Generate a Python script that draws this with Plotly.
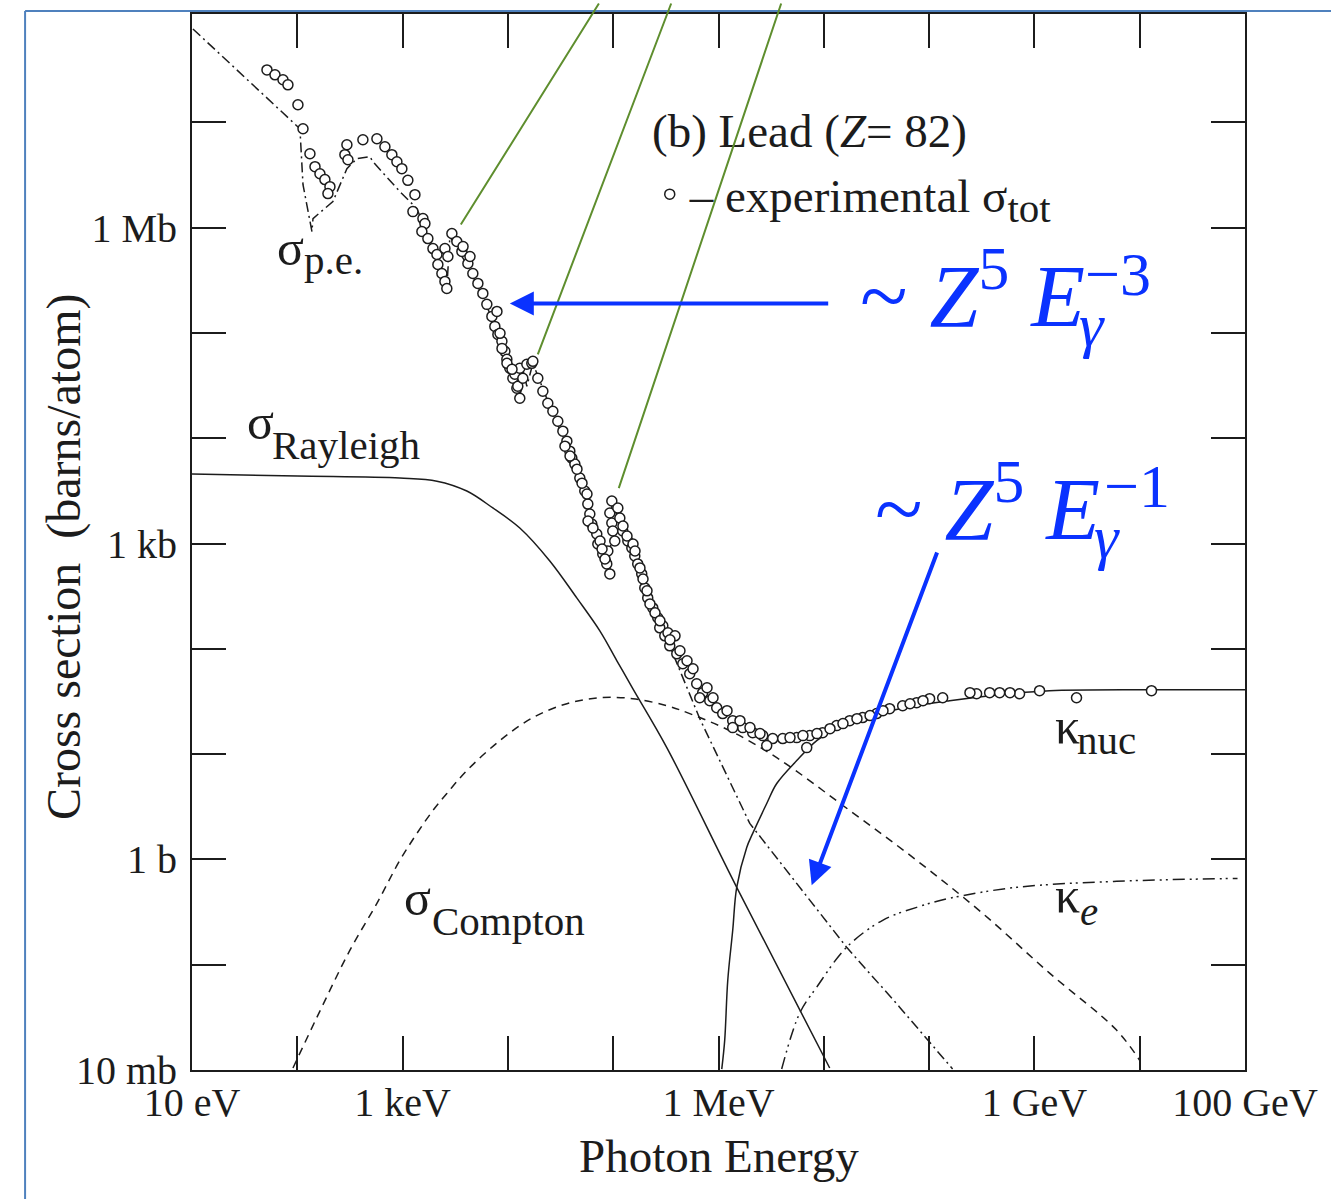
import numpy as np
import plotly.graph_objects as go

# ---------------- data (log10 of energy in eV, log10 of cross section in barns) ----------------
exp_log_e = [1.712, 1.788, 1.864, 1.911, 2.006, 2.054, 2.120, 2.168, 2.215, 2.262, 2.310, 2.291,
             2.452, 2.471, 2.481, 2.623, 2.756, 2.832, 2.898, 2.946, 2.993, 3.05,
             3.117, 3.098, 3.193, 3.212, 3.183, 3.240, 3.288, 3.326, 3.335, 3.373, 3.402, 3.420,
             3.402, 3.430, 3.468, 3.515, 3.563, 3.620, 3.667, 3.715, 3.762, 3.800, 3.848, 3.876,
             3.905, 3.943, 3.971, 3.990, 4.018, 4.047, 4.085, 4.113, 4.066, 4.094, 4.113, 4.142,
             4.180, 4.227,
             4.237, 4.284, 4.332, 4.379, 4.427, 4.474, 4.522, 4.560, 4.588, 4.607, 4.636, 4.683,
             4.730, 4.759, 4.778, 4.797, 4.844, 4.854, 4.901, 4.939, 4.968,
             4.987, 4.968, 4.987, 4.996, 5.015, 4.949, 5.044, 5.063, 5.091, 5.139, 5.177, 5.205,
             5.233, 5.271, 5.300, 5.328, 5.376, 5.423, 5.471, 5.442, 5.490, 5.537, 5.604, 5.661,
             5.727, 5.793, 5.850, 5.917, 5.983, 6.040, 6.135, 6.230, 6.325, 6.420, 6.515, 6.610,
             6.743, 6.866, 6.989, 7.122, 7.246, 7.369, 7.502, 7.625, 7.749, 7.882, 8.005, 8.129,
             8.451, 8.575, 8.670, 8.859, 9.049, 9.400, 10.112,
             5.822, 6.135, 6.458, 6.838,
             3.574, 3.640, 3.896, 3.925, 3.944, 3.991, 4.039,
             4.542, 4.590, 4.656, 4.704, 4.751, 4.761, 4.808, 4.875, 4.894, 4.922,
             5.093, 5.131, 5.188, 5.207, 5.254, 5.283, 5.321, 5.349, 5.397, 5.444, 5.520, 5.587,
             5.539, 5.634, 5.701, 5.758, 5.891, 5.948, 6.081, 6.204, 6.299, 6.394, 6.679, 6.802,
             6.935, 7.059, 7.182, 7.315, 7.439, 7.562, 7.819, 7.942, 8.388, 8.768]
exp_log_sig = [7.499, 7.452, 7.405, 7.357, 7.168, 6.940, 6.703, 6.580, 6.513, 6.457, 6.390, 6.324,
               6.694, 6.788, 6.646, 6.836, 6.845, 6.769, 6.694, 6.627, 6.561, 6.45,
               6.314, 6.153, 6.087, 6.039, 5.964, 5.897, 5.802, 5.746, 5.651, 5.565, 5.490, 5.423,
               5.802, 5.727, 5.945, 5.869, 5.774, 5.660, 5.565, 5.471, 5.376, 5.272, 5.158, 5.063,
               4.987, 4.921, 4.826, 4.750, 4.665, 4.570, 4.475, 4.380, 4.608, 4.494, 4.665, 4.570,
               4.703, 4.712,
               4.731, 4.570, 4.447, 4.333, 4.257, 4.162, 4.068, 3.973, 3.878, 3.812, 3.755, 3.622,
               3.499, 3.375, 3.281, 3.186, 3.091, 2.996, 2.901, 2.807, 2.712,
               3.404, 3.290, 3.195, 3.119, 3.025, 2.930, 3.337, 3.243, 3.119, 3.025, 2.958, 2.882,
               2.807, 2.712, 2.579, 2.484, 2.389, 2.295, 2.219, 2.200, 2.124, 2.029, 1.953, 1.859,
               1.764, 1.669, 1.584, 1.508, 1.441, 1.385, 1.318, 1.252, 1.204, 1.176, 1.148, 1.148,
               1.157, 1.176, 1.204, 1.271, 1.318, 1.347, 1.385, 1.432, 1.460, 1.489, 1.527, 1.536,
               1.574, 1.584, 1.584, 1.574, 1.603, 1.536, 1.603,
               1.536, 1.252, 1.081, 1.062,
               5.821, 5.727, 5.205, 4.997, 4.854, 4.712, 4.655,
               3.925, 3.831, 3.707, 3.574, 3.470, 3.214, 3.148, 3.025, 2.949, 2.854,
               3.167, 3.072, 2.996, 2.930, 2.769, 2.664, 2.551, 2.427, 2.342, 2.266, 2.152, 2.124,
               2.086, 1.982, 1.887, 1.811, 1.631, 1.536, 1.413, 1.318, 1.252, 1.195, 1.157, 1.176,
               1.195, 1.242, 1.290, 1.337, 1.366, 1.413, 1.479, 1.508, 1.584, 1.584]

pe_log_e = [1.009, 2.025, 2.054, 2.139, 2.149, 2.338, 2.471, 2.566, 2.690, 2.718, 2.974, 3.136,
            3.259, 3.420, 3.449, 3.639, 3.829, 4.018, 4.113, 4.142, 4.180, 4.237, 4.398, 4.588,
            4.778, 4.968, 4.987, 5.158, 5.347, 5.537, 5.661, 5.822, 6.297, 6.771, 7.217, 7.720, 8.223]
pe_log_sig = [7.888, 6.940, 6.409, 5.964, 6.087, 6.248, 6.561, 6.656, 6.675, 6.627, 6.343, 6.182,
              5.869, 5.423, 5.916, 5.603, 5.186, 4.655, 4.352, 4.655, 4.494, 4.712, 4.305, 3.859,
              3.262, 2.693, 3.404, 2.949, 2.456, 2.029, 1.726, 1.337, 0.342, -0.265, -0.834, -1.403, -1.99]

ray_log_e = [1.0, 2.0, 2.974, 3.326, 3.610, 3.857, 4.113, 4.398, 4.654, 4.873, 5.035, 5.186, 5.509,
             6.173, 7.056]
ray_log_sig = [3.660, 3.641, 3.622, 3.593, 3.499, 3.338, 3.148, 2.835, 2.484, 2.171, 1.887, 1.622,
               1.062, -0.265, -1.981]

comp_log_e = [1.959, 2.187, 2.500, 2.756, 2.974, 3.136, 3.288, 3.420, 3.610, 3.924, 4.237, 4.560,
              4.873, 5.186, 5.509, 5.727, 6.107, 6.553, 7.246, 7.882, 8.508, 9.144, 9.780, 9.998]
comp_log_sig = [-1.981, -1.498, -0.862, -0.417, -0.009, 0.247, 0.465, 0.626, 0.844, 1.129, 1.347, 1.479,
                1.536, 1.527, 1.460, 1.385, 1.223, 0.967, 0.465, -0.009, -0.512, -1.080, -1.621, -1.905]

knuc_log_e = [6.031, 6.059, 6.088, 6.135, 6.173, 6.268, 6.325, 6.458, 6.553, 6.743, 6.933, 7.084,
              7.436, 7.720, 8.195, 8.670, 9.144, 10.093, 11.0]
knuc_log_sig = [-1.991, -1.716, -1.147, -0.673, -0.265, 0.114, 0.247, 0.531, 0.721, 0.939, 1.129, 1.223,
                1.356, 1.432, 1.508, 1.565, 1.603, 1.612, 1.612]

ke_log_e = [6.600, 6.771, 6.933, 7.217, 7.559, 7.882, 8.195, 8.831, 9.780, 10.929]
ke_log_sig = [-1.991, -1.460, -1.213, -0.834, -0.578, -0.455, -0.369, -0.265, -0.208, -0.180]

x_tick_log = list(range(1, 12))
x_tick_text = {1: "10 eV", 3: "1 keV", 6: "1 MeV", 9: "1 GeV", 11: "100 GeV"}
y_tick_log = list(range(-2, 8))
y_tick_text = {-2: "10 mb", 0: "1 b", 3: "1 kb", 6: "1 Mb"}

# ---------------- styling ----------------
SERIF = "Liberation Serif"
INK = "#1c1c1c"
BLUE = "#0a32ff"
GREEN = "#5e8e2e"
FRAME_BLUE = "#4f81bd"


def p(vals):
    return 10 ** np.array(vals, dtype=float)


fig = go.Figure()

fig.add_trace(go.Scatter(x=p(ray_log_e), y=p(ray_log_sig), mode="lines",
                         line=dict(color=INK, width=1.5, shape="spline", smoothing=1.0),
                         showlegend=False, hoverinfo="skip"))
fig.add_trace(go.Scatter(x=p(comp_log_e), y=p(comp_log_sig), mode="lines",
                         line=dict(color=INK, width=1.5, dash="8px,6px", shape="spline", smoothing=1.0),
                         showlegend=False, hoverinfo="skip"))
fig.add_trace(go.Scatter(x=p(pe_log_e), y=p(pe_log_sig), mode="lines",
                         line=dict(color=INK, width=1.5, dash="10px,4px,2px,4px"),
                         showlegend=False, hoverinfo="skip"))
fig.add_trace(go.Scatter(x=p(knuc_log_e), y=p(knuc_log_sig), mode="lines",
                         line=dict(color=INK, width=1.5, shape="spline", smoothing=1.0),
                         showlegend=False, hoverinfo="skip"))
fig.add_trace(go.Scatter(x=p(ke_log_e), y=p(ke_log_sig), mode="lines",
                         line=dict(color=INK, width=1.5, dash="12px,5px,2px,4px,2px,5px",
                                   shape="spline", smoothing=1.0),
                         showlegend=False, hoverinfo="skip"))
fig.add_trace(go.Scatter(x=p(exp_log_e), y=p(exp_log_sig), mode="markers",
                         marker=dict(symbol="circle", size=10, color="white",
                                     line=dict(color=INK, width=1.5)),
                         name="– experimental σ<sub><span style='font-size:41px'>tot</span></sub>",
                         showlegend=True, hoverinfo="skip"))

axis_common = dict(type="log", showgrid=False, zeroline=False, showline=True, linewidth=2,
                   linecolor=INK, mirror="ticks", ticks="inside", ticklen=34, tickwidth=2,
                   tickcolor=INK, tickfont=dict(family=SERIF, size=40, color=INK))

fig.update_xaxes(range=[1, 11], tickvals=[10 ** k for k in x_tick_log],
                 ticktext=[x_tick_text.get(k, "") for k in x_tick_log], ticklabelstandoff=-4,
                 **axis_common)
fig.update_yaxes(range=[-2, 8.03], tickvals=[10 ** k for k in y_tick_log],
                 ticktext=[y_tick_text.get(k, "") for k in y_tick_log], ticklabelstandoff=5,
                 **axis_common)

ann = []


def label(text, lx, ly, size, color=INK):
    ann.append(dict(x=lx, y=ly, xref="x", yref="y", text=text, showarrow=False,
                    xanchor="left", yanchor="middle",
                    font=dict(family=SERIF, size=size, color=color)))


# curve labels (positions in log10 units of the axes)
label("σ", 1.788, 5.812, 50)
label("p.e.", 2.044, 5.698, 41)
label("σ", 1.503, 4.153, 50)
label("Rayleigh", 1.740, 3.935, 41)
label("σ", 2.993, -0.369, 50)
label("Compton", 3.259, -0.587, 41)
label("κ", 9.173, 1.271, 50)
label("nuc", 9.382, 1.138, 41)
label("κ", 9.173, -0.341, 50)
label("<i>e</i>", 9.410, -0.493, 41)
label("(b) Lead (<i>Z</i>= 82)", 5.347, 6.921, 47)

# blue formulas
label("~ <i>Z</i><sup>5</sup> <i>E</i>", 7.322, 5.409, 88, color=BLUE)
label("<i>γ</i>", 9.405, 5.072, 62, color=BLUE)
label("−3", 9.457, 5.556, 62, color=BLUE)
label("~ <i>Z</i><sup>5</sup> <i>E</i>", 7.464, 3.390, 88, color=BLUE)
label("<i>γ</i>", 9.547, 3.063, 62, color=BLUE)
label("−1", 9.638, 3.546, 62, color=BLUE)

# green edge pointers
for (hx, hy, tx, ty) in [(3.553, 6.030, 4.873, 8.144), (4.284, 4.798, 5.556, 8.144),
                         (5.053, 3.527, 6.600, 8.144)]:
    ann.append(dict(x=hx, y=hy, xref="x", yref="y", ax=tx, ay=ty, axref="x", ayref="y",
                    text="", showarrow=True, arrowhead=0, arrowwidth=2, arrowcolor=GREEN,
                    standoff=0, startstandoff=0))

# blue arrows
for (hx, hy, tx, ty) in [(4.018, 5.281, 7.056, 5.281), (6.885, -0.246, 8.081, 2.930)]:
    ann.append(dict(x=hx, y=hy, xref="x", yref="y", ax=tx, ay=ty, axref="x", ayref="y",
                    text="", showarrow=True, arrowhead=2, arrowsize=1.2, arrowwidth=4,
                    arrowcolor=BLUE, standoff=0, startstandoff=0))

# axis titles
ann.append(dict(x=0.5, y=-0.0813, xref="paper", yref="paper", text="Photon Energy",
                showarrow=False, xanchor="center", yanchor="middle",
                font=dict(family=SERIF, size=47, color=INK)))
ann.append(dict(x=-0.1215, y=0.4858, xref="paper", yref="paper",
                text="Cross section\u00a0\u00a0(barns/atom)", textangle=-90,
                showarrow=False, xanchor="center", yanchor="middle",
                font=dict(family=SERIF, size=48, color=INK)))

shapes = [
    dict(type="line", xref="paper", yref="paper", x0=-0.15852, x1=-0.15852, y0=1.00284, y1=-0.13,
         line=dict(color=FRAME_BLUE, width=2)),
    dict(type="line", xref="paper", yref="paper", x0=-0.15852, x1=1.09, y0=1.00284, y1=1.00284,
         line=dict(color=FRAME_BLUE, width=2)),
]

fig.update_layout(
    width=1331, height=1199,
    margin=dict(l=192, r=86, t=12, b=129),
    paper_bgcolor="white", plot_bgcolor="white",
    annotations=ann, shapes=shapes,
    showlegend=True,
    legend=dict(x=0.4347, y=0.829, xanchor="left", yanchor="middle",
                bgcolor="rgba(0,0,0,0)", borderwidth=0,
                font=dict(family=SERIF, size=47, color=INK)),
)

fig.write_html("out.html")
